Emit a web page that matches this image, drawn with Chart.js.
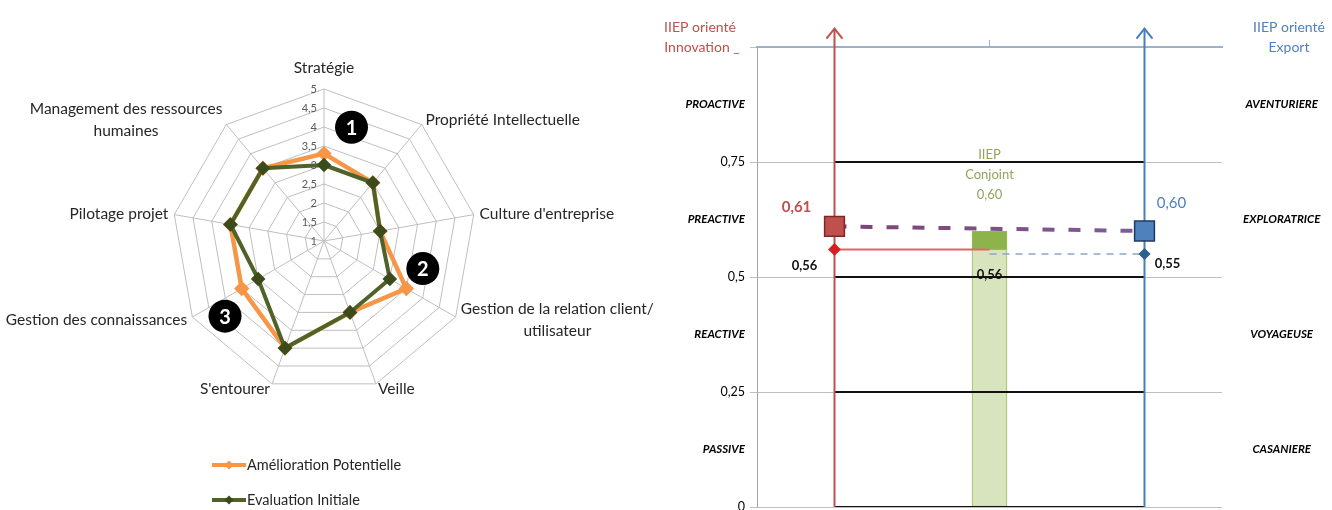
<!DOCTYPE html>
<html>
<head>
<meta charset="utf-8">
<script src="https://cdn.jsdelivr.net/npm/chart.js@4.4.1/dist/chart.umd.min.js"></script>
<style>
    body { margin: 0; background: #fff; width: 1332px; height: 510px; overflow: hidden; position: relative; }
    #radar { position: absolute; left: 0; top: 0; }
    #iiep { position: absolute; left: 640px; top: 0; }
</style>
</head>
<body>
<canvas id="radar" width="660" height="510"></canvas>
<canvas id="iiep" width="692" height="510"></canvas>
<script>
// ---- radar data ----
const radarLabels = ['Stratégie', 'Propriété Intellectuelle', "Culture d'entreprise",
    ['Gestion de la relation client/', 'utilisateur'], 'Veille', "S'entourer",
    'Gestion des connaissances', 'Pilotage projet', ['Management des ressources', 'humaines']];
const ameliorationPotentielle = [3.3, 3, 2.5, 3.5, 3, 4, 3.5, 3.5, 3.5];
const evaluationInitiale = [3, 3, 2.5, 3, 3, 4, 3, 3.5, 3.5];

// ---- IIEP data ----
const profilsInnovation = ['PASSIVE', 'REACTIVE', 'PREACTIVE', 'PROACTIVE'];
const profilsExport = ['CASANIERE', 'VOYAGEUSE', 'EXPLORATRICE', 'AVENTURIERE'];
const seuils = [0, 0.25, 0.5, 0.75];
const iiepNoms = ['Innovation', 'Conjoint', 'Export'];
const iiepX = [1, 3, 5];
const iiepValeurs = [0.61, 0.60, 0.60];
const iiepBase = [0.56, 0.56, 0.55];
const flecheHaut = 1.04;

Chart.defaults.font.family = 'Lato';
Chart.defaults.animation = false;

const rouge = '#C0504D';
const bleu = '#4F81BD';
const fmt = v => v.toFixed(2).replace('.', ',');

// numbered badges on the radar (index between axes, radial value)
const badges = [
    { text: '1', index: 0.34, value: 4.08 },
    { text: '2', index: 2.64, value: 3.7 },
    { text: '3', index: 5.82, value: 4.27 }
];

const radarText = {
    id: 'radarText',
    beforeDatasetsDraw(chart) {
        const s = chart.scales.r;
        const ctx = chart.ctx;
        ctx.save();
        ctx.font = '11px Lato';
        ctx.fillStyle = '#595959';
        ctx.textAlign = 'right';
        ctx.textBaseline = 'middle';
        s.ticks.forEach(t => {
            const y = s.yCenter - s.getDistanceFromCenterForValue(t.value);
            ctx.fillText(String(t.value).replace('.', ','), s.xCenter - 7, y);
        });
        ctx.restore();
    },
    afterDraw(chart) {
        const s = chart.scales.r;
        const ctx = chart.ctx;
        ctx.save();
        // axis labels
        ctx.font = '15.5px Lato';
        ctx.fillStyle = '#262626';
        ctx.textBaseline = 'middle';
        ctx.textAlign = 'center';
        chart.data.labels.forEach((lab, i) => {
            const lines = [].concat(lab);
            const lh = 22;
            const w = Math.max(...lines.map(l => ctx.measureText(l).width));
            const h = lines.length * lh;
            const a = s.getIndexAngle(i);
            const sin = Math.sin(a), cos = Math.cos(a);
            const p = s.getPointPosition(i, s.drawingArea + 6);
            let cx = p.x, cy = p.y;
            if (sin > 0.2) cx += w / 2;
            else if (sin < -0.2) cx -= w / 2;
            if (Math.abs(sin) < 0.5 && cos > 0) cy -= h / 2 + 4;
            lines.forEach((l, k) => ctx.fillText(l, cx, cy - h / 2 + lh * (k + 0.5)));
        });

        // badges
        badges.forEach(b => {
            const p = s.getPointPosition(b.index, s.getDistanceFromCenterForValue(b.value));
            ctx.beginPath();
            ctx.arc(p.x, p.y, 16.5, 0, Math.PI * 2);
            ctx.fillStyle = '#000';
            ctx.fill();
            ctx.fillStyle = '#fff';
            ctx.font = 'bold 20px Lato';
            ctx.fillText(b.text, p.x, p.y + 1);
        });

        // legend
        ctx.font = '14.5px Lato';
        ctx.textAlign = 'left';
        chart.data.datasets.forEach((ds, i) => {
            const y = 465 + i * 35;
            ctx.strokeStyle = ds.borderColor;
            ctx.lineWidth = 4;
            ctx.beginPath();
            ctx.moveTo(212, y);
            ctx.lineTo(246, y);
            ctx.stroke();
            ctx.fillStyle = ds.pointBackgroundColor;
            ctx.beginPath();
            ctx.moveTo(229, y - 4.5);
            ctx.lineTo(233.5, y);
            ctx.lineTo(229, y + 4.5);
            ctx.lineTo(224.5, y);
            ctx.closePath();
            ctx.fill();
            ctx.fillStyle = '#262626';
            ctx.fillText(ds.label, 247, y);
        });
        ctx.restore();
    }
};

new Chart(document.getElementById('radar'), {
    type: 'radar',
    data: {
        labels: radarLabels,
        datasets: [{
            label: 'Amélioration Potentielle',
            data: ameliorationPotentielle,
            borderColor: '#F79646',
            backgroundColor: 'transparent',
            borderWidth: 4.5,
            pointStyle: 'rectRot',
            pointRadius: 4.5,
            pointBackgroundColor: '#F79646',
            pointBorderColor: '#F79646',
            fill: false,
            order: 2
        }, {
            label: 'Evaluation Initiale',
            data: evaluationInitiale,
            borderColor: '#4F6228',
            backgroundColor: 'transparent',
            borderWidth: 4,
            pointStyle: 'rectRot',
            pointRadius: 4.5,
            pointBackgroundColor: '#3B4B1C',
            pointBorderColor: '#3B4B1C',
            fill: false,
            order: 1
        }]
    },
    options: {
        responsive: false,
        devicePixelRatio: 1,
        layout: { autoPadding: false, padding: { left: 172, right: 184, top: 89, bottom: 117 } },
        plugins: { legend: { display: false }, tooltip: { enabled: false } },
        scales: {
            r: {
                min: 1,
                max: 5,
                ticks: { stepSize: 0.5, display: false },
                grid: { color: '#BFBFBF', lineWidth: 1 },
                angleLines: { color: '#BFBFBF', lineWidth: 1 },
                pointLabels: { display: false }
            }
        }
    },
    plugins: [radarText]
});

// ---- IIEP chart ----
const isBand = v => Math.round(v * 8) % 2 === 1;
const tickIsBand = c => !!(c && c.tick && isBand(c.tick.value));
const bandFont = { family: 'Lato', size: 11.5, style: 'italic', weight: 'bold' };

const iiepText = {
    id: 'iiepText',
    afterDatasetsDraw(chart) {
        const x = chart.scales.x, y = chart.scales.y, area = chart.chartArea;
        const ctx = chart.ctx;
        ctx.save();
        // arrow heads
        chart.data.datasets.forEach((ds, i) => {
            if (!ds.arrow) return;
            const pts = chart.getDatasetMeta(i).data;
            const tip = pts[pts.length - 1];
            ctx.strokeStyle = ds.borderColor;
            ctx.lineWidth = 2;
            ctx.beginPath();
            ctx.moveTo(tip.x - 8, tip.y + 10);
            ctx.lineTo(tip.x, tip.y);
            ctx.lineTo(tip.x + 8, tip.y + 10);
            ctx.stroke();
        });

        const px = i => x.getPixelForValue(iiepX[i]);
        const py = v => y.getPixelForValue(v);
        const top = py(1);
        ctx.textAlign = 'center';
        ctx.textBaseline = 'middle';

        ctx.font = '14px Lato';
        ctx.fillStyle = rouge;
        ctx.fillText('IIEP orienté', area.left - 57, top - 20);
        ctx.fillText(iiepNoms[0] + ' _', area.left - 55, top);
        ctx.fillStyle = bleu;
        ctx.fillText('IIEP orienté', area.right + 67, top - 20);
        ctx.fillText(iiepNoms[2], area.right + 67, top);

        ctx.font = 'bold 15px Lato';
        ctx.fillStyle = rouge;
        ctx.fillText(fmt(iiepValeurs[0]), px(0) - 38, py(iiepValeurs[0]) - 19);
        ctx.font = '15px Lato';
        ctx.fillStyle = bleu;
        ctx.fillText(fmt(iiepValeurs[2]), px(2) + 27, py(iiepValeurs[2]) - 28);

        ctx.font = 'bold 13px Lato';
        ctx.fillStyle = '#111';
        ctx.fillText(fmt(iiepBase[0]), px(0) - 30, py(iiepBase[0]) + 16);
        ctx.fillText(fmt(iiepBase[2]), px(2) + 23, py(iiepBase[2]) + 10);
        ctx.fillText(fmt(iiepBase[1]), px(1), py(iiepBase[1]) + 25);

        ctx.font = '13px Lato';
        ctx.fillStyle = '#8FA65A';
        ['IIEP', iiepNoms[1], fmt(iiepValeurs[1])].forEach((t, k) => {
            ctx.fillText(t, px(1), py(iiepValeurs[1]) - 76 + k * 20);
        });
        ctx.restore();
    }
};

const lignesSeuils = seuils.map(v => ({
    type: 'line',
    data: [{ x: iiepX[0], y: v }, { x: iiepX[2], y: v }],
    borderColor: '#111',
    borderWidth: 2,
    pointRadius: 0,
    order: 4
}));

new Chart(document.getElementById('iiep'), {
    type: 'line',
    data: {
        datasets: [
            {
                type: 'line',
                data: [{ x: iiepX[0], y: iiepValeurs[0] }],
                showLine: false,
                pointStyle: 'rect',
                pointRadius: 14,
                pointBackgroundColor: rouge,
                pointBorderColor: '#7A2826',
                pointBorderWidth: 1.5,
                order: 0
            },
            {
                type: 'line',
                data: [{ x: iiepX[2], y: iiepValeurs[2] }],
                showLine: false,
                pointStyle: 'rect',
                pointRadius: 14,
                pointBackgroundColor: bleu,
                pointBorderColor: '#1F3A60',
                pointBorderWidth: 1.5,
                order: 0
            },
            {
                type: 'line',
                data: [{ x: iiepX[0], y: iiepValeurs[0] }, { x: iiepX[2], y: iiepValeurs[2] }],
                borderColor: c => {
                    const a = c.chart.chartArea;
                    if (!a) return '#8064A2';
                    const g = c.chart.ctx.createLinearGradient(a.left, 0, a.right, 0);
                    g.addColorStop(0, '#7E3B6B');
                    g.addColorStop(1, '#8064A2');
                    return g;
                },
                borderWidth: 4,
                borderDash: [12, 14],
                pointRadius: 0,
                order: 1
            },
            {
                type: 'line',
                data: [{ x: iiepX[0], y: iiepBase[0] }, { x: iiepX[1], y: iiepBase[0] }],
                borderColor: '#E06666',
                borderWidth: 2,
                pointStyle: 'rectRot',
                pointRadius: [5, 0],
                pointBackgroundColor: '#D81E1E',
                pointBorderColor: '#D81E1E',
                order: 2
            },
            {
                type: 'line',
                data: [{ x: iiepX[1], y: iiepBase[2] }, { x: iiepX[2], y: iiepBase[2] }],
                borderColor: '#8CA8C8',
                borderWidth: 1.5,
                borderDash: [7, 6],
                pointStyle: 'rectRot',
                pointRadius: [0, 5],
                pointBackgroundColor: '#2F5F8F',
                pointBorderColor: '#2F5F8F',
                order: 2
            },
            {
                type: 'line',
                arrow: true,
                data: [{ x: iiepX[0], y: 0 }, { x: iiepX[0], y: flecheHaut }],
                borderColor: rouge,
                borderWidth: 2,
                pointRadius: 0,
                clip: false,
                order: 3
            },
            {
                type: 'line',
                arrow: true,
                data: [{ x: iiepX[2], y: 0 }, { x: iiepX[2], y: flecheHaut }],
                borderColor: '#4A7EBB',
                borderWidth: 2,
                pointRadius: 0,
                clip: false,
                order: 3
            },
            ...lignesSeuils,
            {
                type: 'bar',
                data: [{ x: iiepX[1], y: [0, iiepBase[1]] }],
                backgroundColor: '#D7E4BD',
                borderColor: '#9BBB59',
                borderWidth: 1,
                borderSkipped: false,
                barThickness: 35,
                grouped: false,
                order: 5
            },
            {
                type: 'bar',
                data: [{ x: iiepX[1], y: [iiepBase[1], iiepValeurs[1]] }],
                backgroundColor: '#8DB44B',
                borderColor: '#9BBB59',
                borderWidth: 1,
                borderSkipped: false,
                barThickness: 35,
                grouped: false,
                order: 5
            }
        ]
    },
    options: {
        responsive: false,
        devicePixelRatio: 1,
        layout: { autoPadding: false, padding: { top: 40, bottom: 3, right: 0, left: 0 } },
        plugins: { legend: { display: false }, tooltip: { enabled: false } },
        scales: {
            x: {
                type: 'linear',
                position: 'top',
                min: 0,
                max: 6,
                offset: false,
                afterBuildTicks: s => { s.ticks = [{ value: iiepX[1] }]; },
                ticks: { display: false },
                grid: { drawOnChartArea: false, offset: false, color: '#9DB1C9', tickLength: 7 },
                border: { color: '#9DB1C9', width: 2 }
            },
            y: {
                type: 'linear',
                position: 'left',
                min: 0,
                max: 1,
                afterFit: s => { s.width = 117; s.paddingTop = 0; s.paddingBottom = 0; },
                ticks: {
                    stepSize: 0.125,
                    autoSkip: false,
                    padding: 5,
                    color: '#000',
                    callback: v => {
                        if (v === 1) return '';
                        if (isBand(v)) return profilsInnovation[Math.floor(v * 4)];
                        return String(v).replace('.', ',');
                    },
                    font: c => tickIsBand(c) ? bandFont : { family: 'Lato', size: 12.5 }
                },
                grid: {
                    color: c => tickIsBand(c) ? 'rgba(0,0,0,0)' : '#BFBFBF',
                    tickLength: 7
                },
                border: { color: '#A6A6A6' }
            },
            y2: {
                type: 'linear',
                position: 'right',
                min: 0,
                max: 1,
                afterFit: s => { s.width = 110; s.paddingTop = 0; s.paddingBottom = 0; },
                ticks: {
                    stepSize: 0.125,
                    autoSkip: false,
                    padding: 13,
                    crossAlign: 'center',
                    color: '#000',
                    callback: v => isBand(v) ? profilsExport[Math.floor(v * 4)] : '',
                    font: bandFont
                },
                grid: { display: false },
                border: { display: false }
            }
        }
    },
    plugins: [iiepText]
});
</script>
</body>
</html>
